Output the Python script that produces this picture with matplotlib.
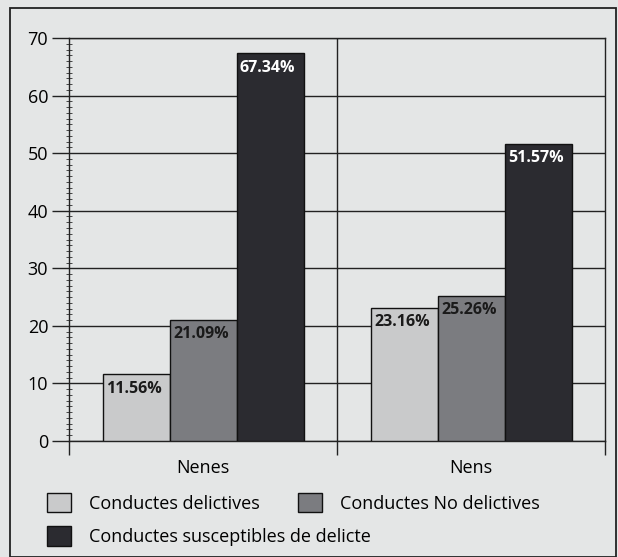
import matplotlib.pyplot as plt
import numpy as np
from matplotlib.patches import Rectangle, Patch
from matplotlib.ticker import MultipleLocator

plt.rcParams['font.family'] = ['Open Sans', 'DejaVu Sans']

categories = ["Nenes", "Nens"]
series_names = ["Conductes delictives", "Conductes No delictives",
                "Conductes susceptibles de delicte"]
delictives = [11.56, 23.16]
no_delictives = [21.09, 25.26]
susceptibles = [67.34, 51.57]
bar_colors = ["#c9cacb", "#7b7c80", "#2b2b30"]
label_colors = ["#1a1a1a", "#1a1a1a", "#ffffff"]
bg = "#e4e6e6"

fig = plt.figure(figsize=(6.18, 5.57), dpi=100, facecolor=bg)
ax = fig.add_axes([69 / 618, 1 - 441 / 557, 536 / 618, 403 / 557])
ax.set_facecolor(bg)

# outer frame of the figure box
fig.patches.append(Rectangle((10 / 618, 0), 606 / 618, 1 - 8 / 557,
                             transform=fig.transFigure, fill=False,
                             edgecolor="#222222", linewidth=1.3))

x = np.arange(len(categories))
width = 0.25
values = [delictives, no_delictives, susceptibles]
for i, vals in enumerate(values):
    pos = x + (i - 1) * width
    ax.bar(pos, vals, width=width, color=bar_colors[i], edgecolor="#111111",
           linewidth=1.0, zorder=3)
    for p, v in zip(pos, vals):
        ax.annotate(f"{v:.2f}%", (p - width / 2, v), xytext=(2.5, -4.5),
                    textcoords="offset points", ha="left", va="top",
                    fontsize=11.5, fontweight="bold", color=label_colors[i],
                    zorder=4)

ax.set_xlim(-0.5, 1.5)
ax.set_ylim(0, 70)
ax.yaxis.set_major_locator(MultipleLocator(10))
ax.yaxis.set_minor_locator(MultipleLocator(1))
ax.grid(axis="y", which="major", color="#222222", linewidth=1.0, zorder=1)
ax.axvline(0.5, color="#222222", linewidth=1.0, zorder=1)

ax.set_xticks([-0.5, 0.5, 1.5])
ax.set_xticklabels([])
ax.set_xticks(x, minor=True)
ax.set_xticklabels(categories, minor=True, fontsize=13)
ax.tick_params(axis="x", which="major", length=10, width=1.0, color="#222222")
ax.tick_params(axis="x", which="minor", length=0, pad=13)
ax.tick_params(axis="y", which="major", length=12, width=1.0,
               labelsize=13, pad=3, color="#222222")
ax.tick_params(axis="y", which="minor", length=4, width=0.7,
               color="#444444", direction="inout")

for s in ax.spines.values():
    s.set_color("#222222")
    s.set_linewidth(1.0)

handles = [Patch(facecolor=c, edgecolor="#111111", label=n)
           for c, n in zip(bar_colors, series_names)]
leg_kw = dict(frameon=False, fontsize=13, borderpad=0, borderaxespad=0,
              handlelength=1.33, handleheight=1.27, handletextpad=1.0,
              labelspacing=0.75, loc="upper left")
fig.legend(handles=[handles[0], handles[2]],
           bbox_to_anchor=(47 / 618, 1 - 493 / 557), **leg_kw)
fig.legend(handles=[handles[1]],
           bbox_to_anchor=(298 / 618, 1 - 493 / 557), **leg_kw)

fig.savefig("out.png", dpi=100, facecolor=bg)
